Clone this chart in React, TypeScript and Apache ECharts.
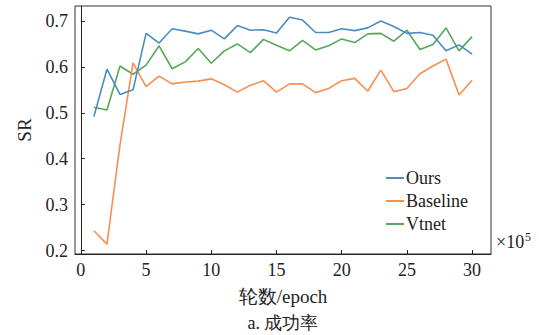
import React, { useEffect, useRef } from "react";
import * as echarts from "echarts";

const epochs = Array.from({ length: 30 }, (_, i) => i + 1);

const ours = [
  0.492, 0.595, 0.54, 0.55, 0.673, 0.652, 0.683, 0.678, 0.672, 0.68,
  0.661, 0.69, 0.68, 0.681, 0.674, 0.708, 0.702, 0.675, 0.675, 0.683,
  0.679, 0.685, 0.7, 0.688, 0.673, 0.675, 0.669, 0.635, 0.648, 0.628,
];
const baseline = [
  0.243, 0.214, 0.43, 0.609, 0.557, 0.58, 0.563, 0.567, 0.569, 0.574,
  0.561, 0.545, 0.56, 0.57, 0.545, 0.563, 0.563, 0.544, 0.553, 0.57,
  0.575, 0.547, 0.593, 0.546, 0.553, 0.585, 0.602, 0.617, 0.539, 0.571,
];
const vtnet = [
  0.512, 0.506, 0.602, 0.584, 0.604, 0.646, 0.596, 0.611, 0.64, 0.608,
  0.635, 0.65, 0.631, 0.66, 0.647, 0.635, 0.658, 0.637, 0.646, 0.661,
  0.653, 0.672, 0.673, 0.656, 0.68, 0.638, 0.649, 0.685, 0.635, 0.666,
];

const xTicks = [0, 5, 10, 15, 20, 25, 30];
const yTicks = [0.2, 0.3, 0.4, 0.5, 0.6, 0.7];

const seriesNames = ["Ours", "Baseline", "Vtnet"];
const seriesColors = ["#4a8cc4", "#f98e52", "#55a85a"];

const FONT = "serif";

export default function App() {
  const ref = useRef<HTMLDivElement>(null);
  useEffect(() => {
    if (!ref.current) return;
    const chart = echarts.init(ref.current, undefined, { renderer: "svg" });
    const datasets = [ours, baseline, vtnet];
    chart.setOption({
      animation: false,
      backgroundColor: "#fff",
      textStyle: { fontFamily: FONT },
      grid: {
        left: 75,
        top: 6,
        right: 48,
        bottom: 81,
        show: true,
        borderColor: "#333",
        borderWidth: 1,
        containLabel: false,
      },
      legend: {
        orient: "vertical",
        left: 386,
        top: 169,
        padding: 0,
        itemWidth: 18,
        itemHeight: 2,
        itemGap: 5,
        icon: "rect",
        data: seriesNames,
        textStyle: {
          fontFamily: FONT,
          fontSize: 18,
          color: "#222",
          lineHeight: 18,
          padding: [0, 0, 0, -3],
        },
      },
      xAxis: {
        type: "value",
        min: -0.45,
        max: 31.45,
        splitLine: { show: false },
        axisLine: { show: true, lineStyle: { color: "#222", width: 1 } },
        axisTick: {
          show: true,
          inside: true,
          length: 4,
          customValues: xTicks,
          lineStyle: { color: "#222" },
        },
        axisLabel: {
          customValues: xTicks,
          fontFamily: FONT,
          fontSize: 18,
          color: "#222",
          margin: 7,
        },
      },
      yAxis: {
        type: "value",
        min: 0.1924,
        max: 0.7327,
        splitLine: { show: false },
        axisLine: { show: true, lineStyle: { color: "#222", width: 1 } },
        axisTick: {
          show: true,
          inside: true,
          length: 4,
          customValues: yTicks,
          lineStyle: { color: "#222" },
        },
        axisLabel: {
          customValues: yTicks,
          formatter: (v: number) => v.toFixed(1),
          fontFamily: FONT,
          fontSize: 18,
          color: "#222",
          margin: 7,
        },
      },
      graphic: [
        {
          type: "text",
          x: 24,
          y: 130,
          rotation: Math.PI / 2,
          style: {
            text: "SR",
            fontFamily: FONT,
            fontSize: 19,
            fill: "#222",
            align: "center",
            verticalAlign: "middle",
          },
        },
        {
          type: "text",
          x: 283,
          y: 296,
          style: {
            text: "轮数/epoch",
            fontFamily: FONT,
            fontSize: 19,
            fill: "#222",
            align: "center",
            verticalAlign: "middle",
          },
        },
        {
          type: "text",
          x: 283,
          y: 323,
          style: {
            text: "a. 成功率",
            fontFamily: FONT,
            fontSize: 18,
            fill: "#222",
            align: "center",
            verticalAlign: "middle",
          },
        },
        {
          type: "text",
          x: 496,
          y: 233,
          style: {
            text: "×10",
            fontFamily: FONT,
            fontSize: 18,
            fill: "#222",
            align: "left",
            verticalAlign: "top",
          },
        },
        {
          type: "text",
          x: 525,
          y: 231,
          style: {
            text: "5",
            fontFamily: FONT,
            fontSize: 12,
            fill: "#222",
            align: "left",
            verticalAlign: "top",
          },
        },
      ],
      series: datasets.map((d, k) => ({
        name: seriesNames[k],
        type: "line",
        data: epochs.map((e, i) => [e, d[i]]),
        symbol: "none",
        color: seriesColors[k],
        lineStyle: { width: 1.6, color: seriesColors[k] },
        z: 3 - k,
      })),
    });
    return () => chart.dispose();
  }, []);
  return (
    <div
      ref={ref}
      style={{ position: "fixed", left: 0, top: 0, width: 539, height: 335 }}
    />
  );
}
